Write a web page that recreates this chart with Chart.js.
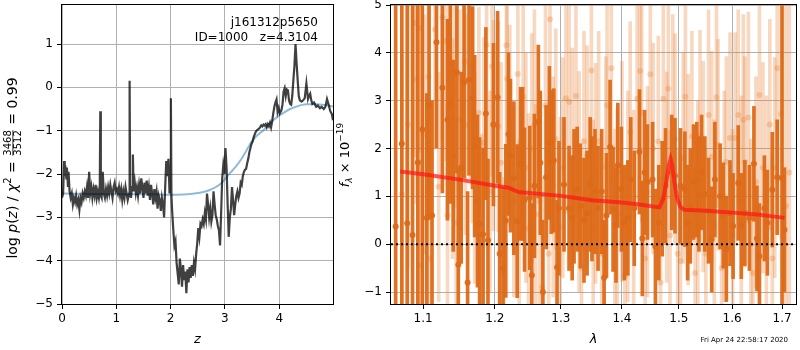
<!DOCTYPE html>
<html>
<head>
<meta charset="utf-8">
<script src="https://cdn.jsdelivr.net/npm/chart.js@4.4.0/dist/chart.umd.min.js"></script>
<style>
body{margin:0;background:#fff;width:800px;height:350px;position:relative;overflow:hidden;}
#c1{position:absolute;left:0;top:0;}
#c2{position:absolute;left:330px;top:0;}
</style>
</head>
<body>
<canvas id="c1" width="340" height="350"></canvas>
<canvas id="c2" width="470" height="350"></canvas>
<script>
// left panel: redshift probability
var zGrid = [0.00,0.02,0.04,0.05,0.06,0.08,0.09,0.11,0.12,0.14,
	0.16,0.18,0.20,0.22,0.24,0.26,0.28,0.30,0.32,0.34,
	0.36,0.38,0.40,0.42,0.44,0.46,0.48,0.50,0.52,0.54,
	0.56,0.58,0.60,0.62,0.64,0.66,0.68,0.695,0.705,0.715,
	0.73,0.75,0.77,0.79,0.81,0.83,0.85,0.87,0.89,0.91,
	0.93,0.95,0.97,0.99,1.01,1.03,1.05,1.07,1.09,1.11,
	1.13,1.15,1.17,1.19,1.21,1.235,1.245,1.255,1.27,1.29,
	1.305,1.32,1.34,1.36,1.38,1.40,1.42,1.44,1.46,1.48,
	1.50,1.52,1.54,1.56,1.58,1.60,1.62,1.64,1.66,1.68,
	1.70,1.72,1.74,1.76,1.78,1.80,1.82,1.84,1.86,1.88,
	1.90,1.92,1.94,1.96,1.98,1.995,2.005,2.015,2.03,2.05,
	2.07,2.09,2.11,2.13,2.15,2.17,2.19,2.21,2.23,2.25,
	2.27,2.29,2.31,2.33,2.35,2.37,2.39,2.41,2.43,2.45,
	2.47,2.49,2.51,2.53,2.55,2.57,2.59,2.61,2.63,2.65,
	2.67,2.69,2.71,2.73,2.75,2.77,2.79,2.81,2.83,2.85,
	2.87,2.89,2.91,2.93,2.95,2.97,2.99,3.01,3.03,3.05,
	3.07,3.09,3.11,3.13,3.15,3.17,3.19,3.21,3.23,3.25,
	3.27,3.29,3.31,3.33,3.35,3.37,3.39,3.41,3.43,3.45,
	3.47,3.49,3.51,3.53,3.55,3.57,3.59,3.61,3.63,3.65,
	3.67,3.69,3.71,3.73,3.75,3.77,3.79,3.81,3.83,3.85,
	3.87,3.89,3.91,3.93,3.95,3.97,3.99,4.01,4.04,4.06,
	4.08,4.10,4.12,4.14,4.16,4.18,4.20,4.22,4.24,4.26,
	4.28,4.30,4.32,4.34,4.36,4.38,4.41,4.44,4.47,4.50,
	4.52,4.53,4.55,4.57,4.59,4.61,4.64,4.68,4.71,4.75,
	4.78,4.82,4.85,4.88,4.91,4.94,4.97,4.99];
var logPz = [-2.55,-2.45,-1.70,-2.05,-1.80,-2.10,-1.85,-2.30,-1.95,-2.40,
	-2.55,-2.45,-2.70,-2.55,-2.65,-2.50,-2.70,-2.60,-2.82,-2.55,
	-2.65,-2.45,-2.55,-2.40,-2.50,-2.30,-2.55,-1.95,-2.45,-2.30,
	-2.55,-2.35,-2.50,-2.25,-2.55,-2.40,-2.55,-2.40,-0.55,-2.50,
	-2.55,-1.95,-2.45,-2.55,-2.35,-2.50,-2.30,-2.45,-2.25,-2.40,
	-2.55,-2.30,-2.20,-2.40,-2.35,-2.45,-2.30,-2.50,-2.35,-2.60,
	-2.40,-2.55,-2.30,-2.45,-2.60,-2.45,0.15,-2.40,-2.55,-2.30,
	-1.55,-2.40,-2.20,-2.45,-2.30,-2.50,-2.25,-2.45,-2.10,-2.30,
	-2.55,-2.20,-2.45,-2.15,-2.50,-2.30,-2.60,-2.25,-2.45,-2.70,
	-2.35,-2.55,-2.40,-2.80,-2.50,-2.60,-2.85,-2.55,-2.70,-3.00,
	-2.30,-1.70,-2.05,-1.65,-2.45,-2.00,-0.25,-2.50,-2.90,-3.30,
	-3.65,-3.55,-4.05,-4.30,-4.55,-3.95,-4.20,-4.60,-4.10,-4.45,
	-4.25,-4.75,-4.20,-4.50,-4.15,-4.40,-4.10,-4.35,-4.05,-4.20,
	-3.85,-3.60,-3.25,-3.45,-3.15,-3.20,-3.05,-3.15,-2.90,-3.05,
	-2.45,-2.70,-3.00,-2.80,-3.10,-2.95,-2.40,-2.70,-2.95,-3.05,
	-3.20,-3.30,-3.65,-2.90,-2.10,-1.80,-2.00,-1.40,-1.85,-2.70,
	-3.45,-3.00,-2.80,-2.30,-2.60,-2.95,-2.70,-2.50,-2.40,-2.55,
	-2.45,-2.20,-2.25,-2.05,-1.95,-1.90,-1.88,-1.75,-1.65,-1.50,
	-1.40,-1.30,-1.25,-1.15,-1.08,-1.02,-0.99,-0.97,-0.95,-0.92,
	-0.88,-0.90,-0.86,-0.88,-0.85,-0.92,-0.85,-0.90,-0.82,-0.92,
	-0.78,-0.60,-0.45,-0.35,-0.28,-0.57,-0.48,-0.60,-0.53,-0.40,
	-0.10,-0.02,-0.20,-0.05,-0.07,-0.30,-0.38,-0.40,-0.20,0.16,
	0.50,1.00,0.55,0.16,-0.20,-0.30,-0.33,-0.30,-0.25,0.09,
	-0.15,-0.27,-0.20,-0.15,-0.30,-0.38,-0.35,-0.45,-0.42,-0.48,
	-0.45,-0.50,-0.45,-0.27,-0.40,-0.55,-0.62,-0.76];
var zSmooth = [0,0.5,1.0,1.5,2.0,2.3,2.5,2.7,2.9,3.0,3.1,3.2,3.3,3.4,3.5,3.6,3.7,3.8,3.9,4.0,4.1,4.2,4.3,4.4,4.5,4.7,4.85,4.99];
var pzSmooth = [-2.45,-2.46,-2.47,-2.47,-2.48,-2.47,-2.44,-2.38,-2.25,-2.12,-1.97,-1.83,-1.66,-1.45,-1.24,-1.10,-1.00,-0.86,-0.75,-0.65,-0.57,-0.50,-0.45,-0.41,-0.39,-0.39,-0.41,-0.44];
var zTicks = [0,1,2,3,4];
var pzTicks = [-5,-4,-3,-2,-1,0,1];

// right panel: spectrum
var lamBin = [1.064,1.072,1.079,1.086,1.093,1.099,1.105,1.108,1.112,1.118,
	1.126,1.133,1.137,1.141,1.146,1.148,1.152,1.156,1.161,1.163,
	1.168,1.171,1.175,1.178,1.183,1.187,1.190,1.198,1.204,1.207,
	1.212,1.216,1.220,1.223,1.228,1.233,1.238,1.241,1.244,1.252,
	1.255,1.259,1.265,1.268,1.272,1.277,1.282,1.285,1.289,1.294,
	1.297,1.305,1.313,1.318,1.321,1.326,1.331,1.337,1.342,1.347,
	1.350,1.355,1.360,1.366,1.370,1.374,1.380,1.385,1.390,1.393,
	1.399,1.404,1.410,1.415,1.421,1.430,1.435,1.439,1.444,1.453,
	1.458,1.464,1.470,1.476,1.487,1.493,1.503,1.511,1.516,1.521,
	1.527,1.533,1.537,1.542,1.548,1.555,1.561,1.567,1.577,1.583,
	1.589,1.596,1.602,1.612,1.618,1.625,1.634,1.643,1.649,1.654,
	1.664,1.670,1.680,1.690,1.700,1.705];
var fluxBin = [0.37,2.10,0.44,0.19,1.71,2.40,0.55,2.92,0.60,4.22,
	3.27,2.60,2.95,1.85,3.59,-0.43,1.60,3.38,-0.80,3.44,
	3.06,2.05,0.90,0.43,0.21,2.73,0.08,2.50,3.07,-0.20,
	-0.50,0.49,2.30,1.85,1.38,0.48,1.68,1.68,0.93,0.97,
	-0.65,1.22,2.56,1.70,-1.00,1.40,2.12,1.72,1.75,-0.48,
	0.75,1.25,0.75,0.55,1.00,1.15,0.80,0.50,0.65,1.25,
	0.95,1.10,0.75,1.10,-0.70,0.60,2.03,0.73,0.40,1.65,
	1.15,0.45,0.55,1.35,0.75,1.93,0.12,1.50,1.30,1.35,
	-0.05,0.45,0.95,1.22,1.50,1.43,1.22,1.15,0.45,0.80,
	1.30,1.35,1.05,1.50,1.05,0.70,0.10,1.35,1.00,0.60,
	-0.10,0.65,0.38,1.28,0.38,0.65,0.55,1.68,0.12,-0.25,
	0.75,0.45,1.14,1.40,1.38,0.30];
var errBin = [6.0,6.0,6.0,5.0,3.5,6.0,2.6,2.4,2.4,2.2,
	2.2,2.1,2.1,2.0,2.1,2.0,2.0,2.0,1.9,2.0,
	1.9,1.9,1.8,1.8,1.8,1.8,1.7,1.7,1.8,1.7,
	1.7,1.6,1.7,1.6,1.6,1.6,1.6,1.6,1.5,1.5,
	1.5,1.5,1.6,1.5,1.5,1.5,1.6,1.5,1.5,1.4,
	1.4,1.4,1.3,1.3,1.4,1.3,1.3,1.3,1.3,1.4,
	1.3,1.3,1.3,1.3,1.2,1.3,1.4,1.3,1.2,1.3,
	1.3,1.2,1.2,1.3,1.2,1.3,1.2,1.3,1.2,1.2,
	1.2,1.2,1.2,1.2,1.2,1.2,1.2,1.2,1.2,1.2,
	1.2,1.2,1.2,1.2,1.2,1.1,1.1,1.2,1.1,1.1,
	1.1,1.1,1.1,1.2,1.1,1.1,1.1,1.2,1.1,1.1,
	1.1,1.1,1.2,1.2,6.0,1.3];

var lamRaw = [1.072,1.080,1.089,1.091,1.096,1.097,1.102,1.107,1.109,1.116,
	1.121,1.126,1.131,1.133,1.136,1.140,1.143,1.145,1.150,1.157,
	1.158,1.165,1.168,1.171,1.177,1.181,1.184,1.188,1.193,1.196,
	1.198,1.205,1.209,1.213,1.217,1.218,1.222,1.228,1.234,1.236,
	1.242,1.246,1.250,1.255,1.259,1.261,1.267,1.271,1.276,1.281,
	1.283,1.288,1.292,1.299,1.303,1.308,1.313,1.318,1.324,1.329,
	1.333,1.337,1.342,1.349,1.352,1.356,1.361,1.366,1.373,1.375,
	1.382,1.388,1.392,1.400,1.405,1.410,1.414,1.420,1.426,1.431,
	1.434,1.440,1.444,1.449,1.454,1.463,1.467,1.472,1.478,1.481,
	1.484,1.489,1.493,1.498,1.503,1.508,1.512,1.517,1.524,1.530,
	1.535,1.539,1.545,1.550,1.555,1.561,1.566,1.570,1.573,1.580,
	1.585,1.589,1.596,1.601,1.606,1.612,1.618,1.622,1.625,1.632,
	1.637,1.641,1.647,1.654,1.661,1.668,1.675,1.680,1.685,1.690,
	1.698,1.708,1.715];
var fluxRaw = [1.05,2.50,4.63,3.45,-0.44,4.52,2.30,3.50,-0.30,4.49,
	1.20,4.74,4.25,0.60,3.80,2.00,3.17,0.45,2.60,3.82,
	2.50,3.72,2.75,1.38,2.75,0.20,2.12,4.17,1.10,3.72,
	2.48,2.46,1.70,-0.60,4.16,3.46,2.48,0.90,3.56,0.18,
	3.08,1.60,0.33,2.00,2.50,0.62,0.90,-0.90,2.90,-0.20,
	4.70,1.20,2.20,0.35,1.60,3.05,2.97,1.80,3.10,1.31,
	-0.50,2.15,1.85,3.63,0.30,1.48,2.15,-0.20,1.62,2.90,
	3.68,0.20,0.62,1.52,-0.67,1.00,2.35,0.60,3.04,3.62,
	2.75,-0.30,1.10,3.55,2.00,2.15,-0.80,3.04,1.40,3.25,
	0.18,2.60,2.20,-0.20,-0.35,1.80,3.08,1.35,2.25,-0.60,
	0.80,2.27,1.62,-0.20,2.70,1.83,0.40,3.07,2.08,-0.50,
	1.00,1.72,2.22,0.20,2.22,2.70,0.90,2.60,1.72,2.65,
	0.00,-0.60,1.30,3.12,1.60,0.90,2.50,-0.30,1.60,3.68,
	2.72,0.80,1.50];
var errRaw = [3.0,3.0,2.8,2.6,2.2,2.6,2.5,2.4,2.3,2.5,
	2.4,2.6,2.5,2.3,2.4,2.3,2.4,2.2,2.3,2.4,
	2.3,2.4,2.3,2.2,2.2,2.1,2.2,2.4,2.1,2.3,
	2.2,2.2,2.1,2.0,2.3,2.2,2.1,2.0,2.2,2.0,
	2.5,2.4,2.4,2.4,2.4,2.3,2.3,2.3,2.4,2.3,
	2.6,2.3,2.3,2.3,2.3,2.4,2.4,2.3,2.4,2.3,
	2.3,2.3,2.3,2.4,2.3,2.3,2.3,2.2,2.3,2.3,
	2.4,2.2,2.2,2.3,2.2,2.2,2.3,2.2,2.3,2.3,
	2.3,2.2,2.2,2.3,2.2,2.2,2.2,2.3,2.2,2.3,
	2.2,2.2,2.2,2.2,2.2,2.2,2.3,2.2,2.2,2.2,
	2.2,2.2,2.2,2.2,2.2,2.2,2.2,2.3,2.2,2.2,
	2.2,2.2,2.2,2.2,2.2,2.2,2.2,2.2,2.2,2.2,
	2.2,2.2,2.2,2.3,2.2,2.2,2.2,2.2,2.3,2.4,
	2.6,6.0,6.0];

var lamModel = [1.07,1.10,1.15,1.20,1.22,1.235,1.30,1.35,1.40,1.43,1.465,1.472,1.478,1.482,1.485,1.488,1.492,1.497,1.503,1.51,1.55,1.60,1.65,1.705];
var fluxModel = [1.52,1.46,1.35,1.22,1.18,1.09,1.01,0.92,0.87,0.83,0.77,0.95,1.35,1.65,1.78,1.65,1.30,0.95,0.78,0.72,0.70,0.66,0.62,0.55];
var lamTicks = [1.1,1.2,1.3,1.4,1.5,1.6,1.7];
var fluxTicks = [-1,0,1,2,3,4,5];

var FAM = '"DejaVu Sans", sans-serif';
Chart.defaults.font.family = FAM;
Chart.defaults.color = '#000';

function minus(v){ return String(v).replace('-', '\u2212'); }

var frame = {
	id: 'frame',
	afterDatasetsDraw: function(chart){
		var a = chart.chartArea, c = chart.ctx;
		c.save();
		c.strokeStyle = '#000';
		c.lineWidth = 1;
		c.strokeRect(a.left - 0.5, a.top - 0.5, a.right - a.left + 1, a.bottom - a.top + 1);
		c.restore();
	}
};

// draws a rotated label made of pieces (mathtext-ish)
function drawRich(ctx, parts, cx, cy){
	ctx.save();
	ctx.translate(cx, cy);
	ctx.rotate(-Math.PI / 2);
	ctx.textBaseline = 'middle';
	ctx.fillStyle = '#000';
	var total = 0;
	parts.forEach(function(p){
		ctx.font = p.font;
		if (p.frac) p.w = Math.max(ctx.measureText(p.frac[0]).width, ctx.measureText(p.frac[1]).width) + 2;
		else p.w = ctx.measureText(p.t).width;
		total += p.w;
	});
	var x = -total / 2;
	parts.forEach(function(p){
		ctx.font = p.font;
		if (p.frac) {
			ctx.textAlign = 'center';
			ctx.fillText(p.frac[0], x + p.w / 2, -5);
			ctx.fillText(p.frac[1], x + p.w / 2, 5);
			ctx.fillRect(x + 1, -0.5, p.w - 2, 0.8);
		} else {
			ctx.textAlign = 'left';
			ctx.fillText(p.t, x, p.dy || 0);
		}
		x += p.w;
	});
	ctx.restore();
}

var N = '13px ' + FAM, I = 'italic 13px ' + FAM, S = '9px ' + FAM, SI = 'italic 9px ' + FAM;
var N14 = '14px ' + FAM, I14 = 'italic 14px ' + FAM, S10 = '10px ' + FAM;

var leftText = {
	id: 'leftText',
	afterDraw: function(chart){
		var c = chart.ctx;
		drawRich(c, [
			{t:'log ', font:N14}, {t:'p', font:I14}, {t:'(', font:N14}, {t:'z', font:I14}, {t:') / ', font:N14},
			{t:'\u03c7', font:I14}, {t:'2', font:S10, dy:-5}, {t:' = ', font:N14},
			{frac:['3468','3512'], font:S10}, {t:' = 0.99', font:N14}
		], 13, 168);
		c.save();
		c.font = '12px ' + FAM;
		c.fillStyle = '#000';
		c.textAlign = 'right';
		c.textBaseline = 'middle';
		c.fillText('j161312p5650', 318, 23);
		c.fillText('ID=1000   z=4.3104', 318, 38);
		c.restore();
	}
};

var rightText = {
	id: 'rightText',
	afterDraw: function(chart){
		var c = chart.ctx;
		drawRich(c, [
			{t:'f', font:I}, {t:'\u03bb', font:SI, dy:4}, {t:' \u00d7 10', font:N}, {t:'\u221219', font:S, dy:-5}
		], 16, 155);
		c.save();
		c.font = '7px ' + FAM;
		c.fillStyle = '#000';
		c.textAlign = 'right';
		c.textBaseline = 'middle';
		c.fillText('Fri Apr 24 22:58:17 2020', 458, 340);
		c.restore();
	}
};

function gridOpts(){ return {color:'#b0b0b0', lineWidth:1, tickColor:'#000', tickLength:5}; }

new Chart(document.getElementById('c1'), {
	type: 'line',
	data: {
		datasets: [
			{
				data: zGrid.map(function(z, i){ return {x:z, y:logPz[i]}; }),
				borderColor: 'rgba(0,0,0,0.75)', borderWidth: 2.2, pointRadius: 0, tension: 0, clip: 0, order: 1
			},
			{
				data: zSmooth.map(function(z, i){ return {x:z, y:pzSmooth[i]}; }),
				borderColor: 'rgba(31,119,180,0.5)', borderWidth: 2, pointRadius: 0,
				cubicInterpolationMode: 'monotone', clip: 0, order: 2
			}
		]
	},
	options: {
		responsive: false, animation: false, events: [],
		layout: {padding: {top:5, right:7, left:0, bottom:0}},
		plugins: {legend: {display:false}, tooltip: {enabled:false}},
		scales: {
			x: {
				type: 'linear', min: 0, max: 4.99,
				afterBuildTicks: function(s){ s.ticks = zTicks.map(function(v){ return {value:v}; }); },
				afterFit: function(s){ s.height = 46; s.paddingLeft = 0; s.paddingRight = 0; },
				grid: gridOpts(), border: {display:false},
				ticks: {font:{size:12}, color:'#000', padding:3, maxRotation:0, autoSkip:false, callback: function(v){ return minus(v); }},
				title: {display:true, text:'z', font:{size:13, style:'italic'}, color:'#000', padding:{top:0, bottom:3}}
			},
			y: {
				type: 'linear', min: -5, max: 1.9,
				afterBuildTicks: function(s){ s.ticks = pzTicks.map(function(v){ return {value:v}; }); },
				afterFit: function(s){ s.width = 62; s.paddingTop = 0; s.paddingBottom = 0; },
				grid: gridOpts(), border: {display:false},
				ticks: {font:{size:12}, color:'#000', padding:4, autoSkip:false, callback: function(v){ return minus(v); }}
			}
		}
	},
	plugins: [frame, leftText]
});

var darkOr = 'rgba(221,106,24,0.95)';
var lightOr = 'rgba(232,125,45,0.3)';

new Chart(document.getElementById('c2'), {
	type: 'bar',
	data: {
		datasets: [
			{
				type: 'bar', grouped: false, barThickness: 3, backgroundColor: lightOr, borderWidth: 0, clip: 0, order: 6,
				data: lamRaw.map(function(l, i){ return {x:l, y:[fluxRaw[i] - errRaw[i], fluxRaw[i] + errRaw[i]]}; })
			},
			{
				type: 'line', showLine: false, pointRadius: 3, pointBackgroundColor: lightOr, pointBorderWidth: 0, clip: 0, order: 5,
				data: lamRaw.map(function(l, i){ return {x:l, y:fluxRaw[i]}; })
			},
			{
				type: 'bar', grouped: false, barThickness: 3, backgroundColor: darkOr, borderWidth: 0, clip: 0, order: 4,
				data: lamBin.map(function(l, i){ return {x:l, y:[fluxBin[i] - errBin[i], fluxBin[i] + errBin[i]]}; })
			},
			{
				type: 'line', showLine: false, pointRadius: 3, pointBackgroundColor: darkOr, pointBorderWidth: 0, clip: 0, order: 3,
				data: lamBin.map(function(l, i){ return {x:l, y:fluxBin[i]}; })
			},
			{
				type: 'line', borderColor: 'rgba(255,20,20,0.7)', borderWidth: 4, pointRadius: 0, tension: 0, clip: 0, order: 2,
				data: lamModel.map(function(l, i){ return {x:l, y:fluxModel[i]}; })
			},
			{
				type: 'line', borderColor: '#000', borderWidth: 2, borderDash: [2, 3], pointRadius: 0, clip: 0, order: 1,
				data: [{x:1.058, y:0}, {x:1.729, y:0}]
			}
		]
	},
	options: {
		responsive: false, animation: false, events: [],
		layout: {padding: {top:5, right:1, left:0, bottom:0}},
		plugins: {legend: {display:false}, tooltip: {enabled:false}},
		scales: {
			x: {
				type: 'logarithmic', min: 1.058, max: 1.729, offset: false,
				afterBuildTicks: function(s){ s.ticks = lamTicks.map(function(v){ return {value:v}; }); },
				afterFit: function(s){ s.height = 46; s.paddingLeft = 0; s.paddingRight = 0; },
				grid: Object.assign(gridOpts(), {offset:false}), border: {display:false},
				ticks: {font:{size:12}, color:'#000', padding:3, maxRotation:0, autoSkip:false, callback: function(v){ return Number(v).toFixed(1); }},
				title: {display:true, text:'\u03bb', font:{size:13, style:'italic'}, color:'#000', padding:{top:0, bottom:3}}
			},
			y: {
				type: 'linear', min: -1.25, max: 5,
				afterBuildTicks: function(s){ s.ticks = fluxTicks.map(function(v){ return {value:v}; }); },
				afterFit: function(s){ s.width = 61; s.paddingTop = 0; s.paddingBottom = 0; },
				grid: gridOpts(), border: {display:false},
				ticks: {font:{size:12}, color:'#000', padding:4, autoSkip:false, callback: function(v){ return minus(v); }}
			}
		}
	},
	plugins: [frame, rightText]
});
</script>
</body>
</html>
